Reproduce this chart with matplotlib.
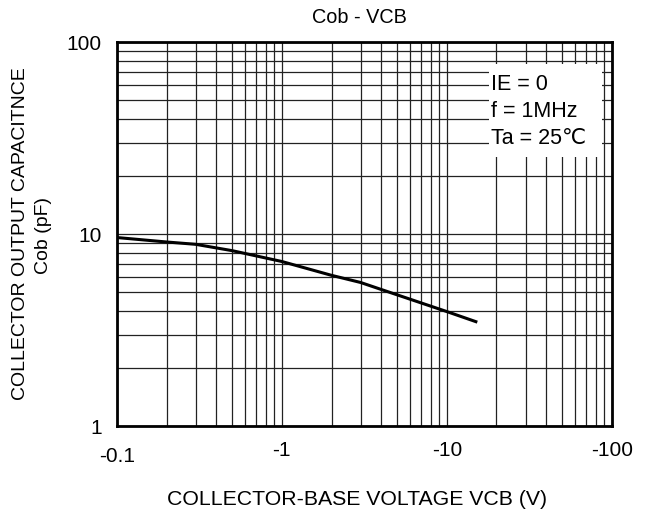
import matplotlib.pyplot as plt
from matplotlib.patches import Rectangle
from matplotlib.ticker import LogLocator, NullFormatter, FixedLocator, FixedFormatter

plt.rcParams['font.family'] = ['Liberation Sans', 'DejaVu Sans']

# Cob vs VCB (magnitude of VCB, volts -> pF)
vcb = [0.1, 0.2, 0.3, 0.5, 1, 2, 3, 4, 10, 15]
cob = [9.6, 9.1, 8.85, 8.2, 7.2, 6.1, 5.6, 5.15, 3.95, 3.5]

x_ticks = [0.1, 1, 10, 100]
x_labels = ['-0.1', '-1', '-10', '-100']
y_ticks = [1, 10, 100]
y_labels = ['1', '10', '100']
conditions = ['IE = 0', 'f = 1MHz', 'Ta = 25\u2103']

fig = plt.figure(figsize=(6.46, 5.14), dpi=100)
ax = fig.add_axes([0.181, 0.171, 0.766, 0.747])

ax.plot(vcb, cob, color='black', linewidth=2.2, zorder=5)

ax.set_xscale('log')
ax.set_yscale('log')
ax.set_xlim(0.1, 100)
ax.set_ylim(1, 100)

ax.xaxis.set_major_locator(FixedLocator(x_ticks))
ax.xaxis.set_major_formatter(FixedFormatter(x_labels))
ax.yaxis.set_major_locator(FixedLocator(y_ticks))
ax.yaxis.set_major_formatter(FixedFormatter(y_labels))
ax.xaxis.set_minor_locator(LogLocator(base=10, subs=range(2, 10)))
ax.yaxis.set_minor_locator(LogLocator(base=10, subs=range(2, 10)))
ax.xaxis.set_minor_formatter(NullFormatter())
ax.yaxis.set_minor_formatter(NullFormatter())

ax.grid(True, which='both', color='#222222', linewidth=0.9)
ax.tick_params(which='both', length=0, labelsize=15)
ax.tick_params(axis='x', pad=11)
ax.tick_params(axis='y', pad=11)

# first x label sits a little lower than the rest
ax.xaxis.get_major_ticks()[0].set_pad(15)

for s in ax.spines.values():
    s.set_linewidth(2.0)
    s.set_color('black')

# conditions box covering the grid
ax.add_patch(Rectangle((0.751, 0.70), 0.229, 0.243, transform=ax.transAxes,
                       facecolor='white', edgecolor='none', zorder=3))
for i, line in enumerate(conditions):
    ax.text(0.756, 0.89 - i * 0.07, line, transform=ax.transAxes,
            fontsize=15.5, va='center', ha='left', zorder=4)

fig.text(0.557, 0.965, 'Cob - VCB', fontsize=14.3, ha='center', va='center')
fig.text(0.553, 0.029, 'COLLECTOR-BASE VOLTAGE VCB (V)', fontsize=15.3,
         ha='center', va='center')
fig.text(0.032, 0.545, 'COLLECTOR OUTPUT CAPACITNCE', rotation=90,
         fontsize=14, ha='center', va='center')
fig.text(0.067, 0.542, 'Cob (pF)', rotation=90,
         fontsize=14, ha='center', va='center')

fig.savefig('out.png', dpi=100)
